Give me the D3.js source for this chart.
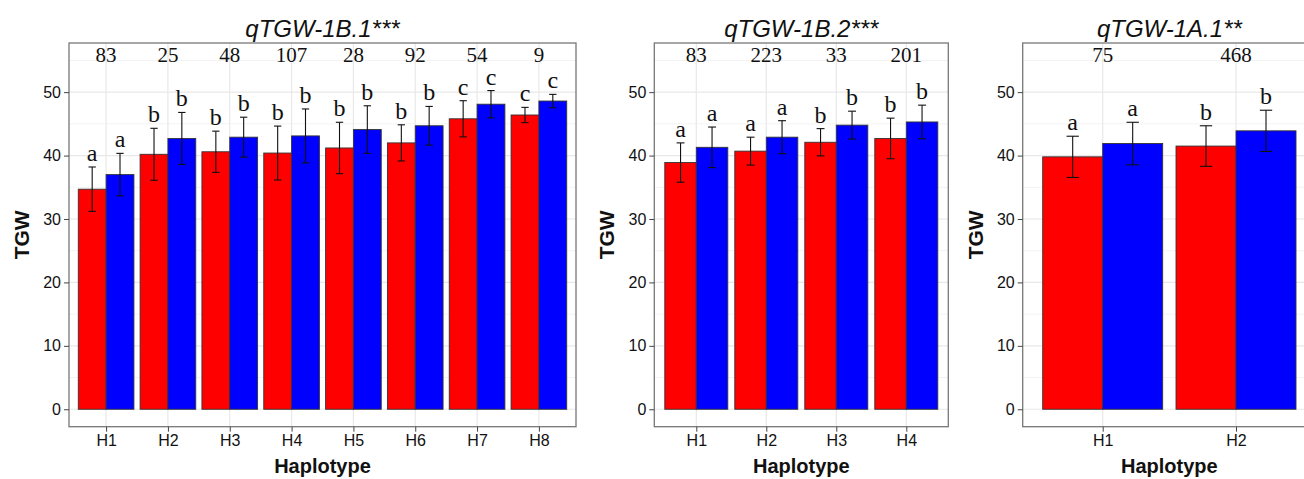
<!DOCTYPE html>
<html>
<head>
<meta charset="utf-8">
<script src="https://cdn.jsdelivr.net/npm/d3@7"></script>
<style>
  body { margin: 0; background: #fff; }
  svg { display: block; }
</style>
</head>
<body>
<svg width="1304" height="479"></svg>
<script>
// qTGW-1B.1
const haps1 = ["H1", "H2", "H3", "H4", "H5", "H6", "H7", "H8"];
const counts1 = [83, 25, 48, 107, 28, 92, 54, 9];
const red1 = [34.7, 40.2, 40.6, 40.4, 41.2, 42.0, 45.8, 46.4];
const redSd1 = [3.5, 4.1, 3.25, 4.25, 4.05, 2.85, 2.85, 1.2];
const blue1 = [37.0, 42.7, 42.9, 43.1, 44.1, 44.7, 48.1, 48.6];
const blueSd1 = [3.35, 4.1, 3.15, 4.25, 3.75, 3.05, 2.15, 1.05];
const redLet1 = ["a", "b", "b", "b", "b", "b", "c", "c"];
const blueLet1 = ["a", "b", "b", "b", "b", "b", "c", "c"];

// qTGW-1B.2
const haps2 = ["H1", "H2", "H3", "H4"];
const counts2 = [83, 223, 33, 201];
const red2 = [38.9, 40.7, 42.1, 42.7];
const redSd2 = [3.1, 2.2, 2.15, 3.2];
const blue2 = [41.3, 42.9, 44.8, 45.3];
const blueSd2 = [3.2, 2.6, 2.2, 2.65];
const redLet2 = ["a", "a", "b", "b"];
const blueLet2 = ["a", "a", "b", "b"];

// qTGW-1A.1
const haps3 = ["H1", "H2"];
const counts3 = [75, 468];
const red3 = [39.8, 41.5];
const redSd3 = [3.25, 3.2];
const blue3 = [41.9, 43.9];
const blueSd3 = [3.35, 3.25];
const redLet3 = ["a", "b"];
const blueLet3 = ["a", "b"];

const yTicks = [0, 10, 20, 30, 40, 50];
const yMinor = [5, 15, 25, 35, 45, 55];

const panels = [
  { title: "qTGW-1B.1***", haps: haps1, counts: counts1, red: red1, redSd: redSd1, blue: blue1, blueSd: blueSd1, redLet: redLet1, blueLet: blueLet1, left: 69, right: 576 },
  { title: "qTGW-1B.2***", haps: haps2, counts: counts2, red: red2, redSd: redSd2, blue: blue2, blueSd: blueSd2, redLet: redLet2, blueLet: blueLet2, left: 654.3, right: 948.3 },
  { title: "qTGW-1A.1**", haps: haps3, counts: counts3, red: red3, redSd: redSd3, blue: blue3, blueSd: blueSd3, redLet: redLet3, blueLet: blueLet3, left: 1022.7, right: 1316 }
];

const plotTop = 43, plotBottom = 426.7;
const sans = "'Liberation Sans', Arial, sans-serif";
const serif = "'Liberation Serif', 'Times New Roman', serif";

const svg = d3.select("svg");

const y = d3.scaleLinear().domain([-2.75, 57.75]).range([plotBottom, plotTop]);

panels.forEach(p => {
  const g = svg.append("g");
  const x = d3.scalePoint().domain(p.haps).range([p.left, p.right]).padding(0.6);
  const step = x.step();
  const bw = step * 0.45;
  const cap = 1.5 + 0.035 * step;

  // background grid
  g.selectAll(".minor").data(yMinor).enter().append("line")
    .attr("x1", p.left).attr("x2", p.right)
    .attr("y1", d => y(d)).attr("y2", d => y(d))
    .attr("stroke", "#f3f3f3").attr("stroke-width", 1);
  g.selectAll(".major").data(yTicks).enter().append("line")
    .attr("x1", p.left).attr("x2", p.right)
    .attr("y1", d => y(d)).attr("y2", d => y(d))
    .attr("stroke", "#e8e8e8").attr("stroke-width", 1.2);
  g.selectAll(".vgrid").data(p.haps).enter().append("line")
    .attr("x1", d => x(d)).attr("x2", d => x(d))
    .attr("y1", plotTop).attr("y2", plotBottom)
    .attr("stroke", "#e8e8e8").attr("stroke-width", 1.2);

  // bars
  const rows = p.haps.map((h, i) => ({
    h: h, n: p.counts[i],
    bars: [
      { v: p.red[i], sd: p.redSd[i], lab: p.redLet[i], fill: "#ff0000", off: -bw },
      { v: p.blue[i], sd: p.blueSd[i], lab: p.blueLet[i], fill: "#0000ff", off: 0 }
    ]
  }));

  const grp = g.selectAll(".grp").data(rows).enter().append("g");

  grp.selectAll("rect").data(d => d.bars.map(b => ({ ...b, h: d.h }))).enter().append("rect")
    .attr("x", d => x(d.h) + d.off)
    .attr("y", d => y(d.v))
    .attr("width", bw)
    .attr("height", d => y(0) - y(d.v))
    .attr("fill", d => d.fill)
    .attr("stroke", "#333")
    .attr("stroke-width", 0.9);

  // error bars
  const eb = grp.selectAll(".eb").data(d => d.bars.map(b => ({ ...b, h: d.h }))).enter().append("g");
  eb.append("line")
    .attr("x1", d => x(d.h) + d.off + bw / 2).attr("x2", d => x(d.h) + d.off + bw / 2)
    .attr("y1", d => y(d.v - d.sd)).attr("y2", d => y(d.v + d.sd));
  eb.append("line")
    .attr("x1", d => x(d.h) + d.off + bw / 2 - cap).attr("x2", d => x(d.h) + d.off + bw / 2 + cap)
    .attr("y1", d => y(d.v + d.sd)).attr("y2", d => y(d.v + d.sd));
  eb.append("line")
    .attr("x1", d => x(d.h) + d.off + bw / 2 - cap).attr("x2", d => x(d.h) + d.off + bw / 2 + cap)
    .attr("y1", d => y(d.v - d.sd)).attr("y2", d => y(d.v - d.sd));
  eb.selectAll("line").attr("stroke", "#111").attr("stroke-width", 1.1);

  // significance letters
  eb.append("text")
    .attr("x", d => x(d.h) + d.off + bw / 2)
    .attr("y", d => y(d.v + d.sd) - 6)
    .attr("text-anchor", "middle")
    .attr("font-family", serif)
    .attr("font-size", "24px")
    .attr("fill", "#111")
    .text(d => d.lab);

  // counts
  grp.append("text")
    .attr("x", d => x(d.h))
    .attr("y", y(55) + 1.5)
    .attr("text-anchor", "middle")
    .attr("font-family", serif)
    .attr("font-size", "21px")
    .attr("fill", "#111")
    .text(d => d.n);

  // panel border
  g.append("rect")
    .attr("x", p.left).attr("y", plotTop)
    .attr("width", p.right - p.left).attr("height", plotBottom - plotTop)
    .attr("fill", "none").attr("stroke", "#777").attr("stroke-width", 1.3);

  // axes
  const yAxis = g.append("g").attr("transform", `translate(${p.left},0)`)
    .call(d3.axisLeft(y).tickValues(yTicks).tickSize(5).tickPadding(3));
  const xAxis = g.append("g").attr("transform", `translate(0,${plotBottom})`)
    .call(d3.axisBottom(x).tickSize(5).tickPadding(3));
  [yAxis, xAxis].forEach(a => {
    a.select(".domain").remove();
    a.selectAll(".tick line").attr("stroke", "#444");
    a.selectAll(".tick text")
      .attr("font-family", sans).attr("font-size", "16px").attr("fill", "#111");
  });

  // titles
  g.append("text")
    .attr("x", (p.left + p.right) / 2).attr("y", 36.5)
    .attr("text-anchor", "middle")
    .attr("font-family", sans).attr("font-style", "italic")
    .attr("font-size", "24px").attr("fill", "#111")
    .text(p.title);

  g.append("text")
    .attr("x", (p.left + p.right) / 2).attr("y", 473)
    .attr("text-anchor", "middle")
    .attr("font-family", sans).attr("font-weight", "bold")
    .attr("font-size", "20px").attr("fill", "#111")
    .text("Haplotype");

  g.append("text")
    .attr("transform", `translate(${p.left - 40},${(plotTop + plotBottom) / 2}) rotate(-90)`)
    .attr("text-anchor", "middle")
    .attr("font-family", sans).attr("font-weight", "bold")
    .attr("font-size", "21px").attr("fill", "#111")
    .text("TGW");
});
</script>
</body>
</html>
